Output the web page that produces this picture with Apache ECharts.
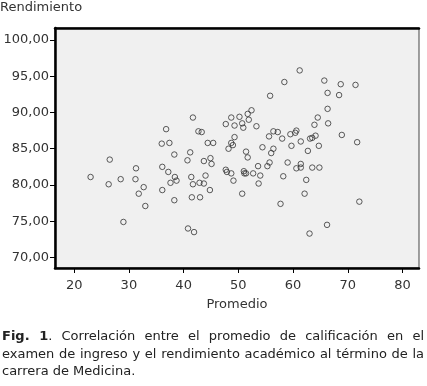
<!DOCTYPE html>
<html>
<head>
<meta charset="utf-8">
<script src="https://cdn.jsdelivr.net/npm/echarts@6/dist/echarts.min.js"></script>
<style>
html,body{margin:0;padding:0;background:#fff;}
#wrap{position:relative;width:427px;height:386px;overflow:hidden;}
#chart{position:absolute;left:0;top:0;width:427px;height:386px;}
#cap{position:absolute;left:2px;top:327px;width:422px;font-family:"DejaVu Sans",Verdana,sans-serif;font-size:13px;line-height:17.5px;color:#222;}
#cap div{white-space:nowrap;}
#cap .j{text-align:justify;text-align-last:justify;}
</style>
</head>
<body>
<div id="wrap">
<div id="chart"></div>
<div id="cap">
<div class="j"><b>Fig. 1</b>. Correlación entre el promedio de calificación en el</div>
<div class="j">examen de ingreso y el rendimiento académico al término de la</div>
<div>carrera de Medicina.</div>
</div>
</div>
<script>
// Promedio (x) values
const promedio = [
23.0,26.5,26.3,28.5,31.3,31.2,32.7,31.8,33.0,29.0,
36.0,37.4,36.8,38.3,36.1,37.2,36.1,37.6,38.4,38.7,38.3,
41.7,42.7,43.3,44.4,45.4,41.2,40.7,43.7,44.9,45.1,
41.4,41.7,42.9,43.7,44.0,44.8,41.5,43.0,40.8,41.9,
47.7,48.7,50.2,49.3,50.7,50.9,51.7,52.4,51.9,53.3,55.8,
49.3,48.7,49.0,48.2,51.4,51.7,54.4,56.4,56.0,55.7,55.3,53.6,
47.7,47.9,48.7,49.1,51.0,51.1,51.4,52.7,54.0,53.7,50.7,57.7,
61.2,58.4,65.7,68.7,71.4,66.3,68.4,66.3,64.5,63.9,66.4,
56.4,57.2,55.6,58.0,59.5,60.4,60.6,63.1,63.5,64.1,68.9,71.7,
61.4,59.7,62.7,64.7,59.0,60.6,61.4,61.4,63.5,64.8,
58.2,62.4,62.1,72.1,66.2,63.0
];
// Rendimiento (y) values
const rendimiento = [
81.1,83.5,80.1,80.8,82.3,80.8,79.7,78.8,77.1,74.9,
85.7,85.8,87.7,84.2,82.5,81.8,79.3,80.3,81.1,80.6,77.9,
89.3,87.4,87.3,85.8,85.8,84.5,83.4,83.3,83.7,82.9,
81.1,80.1,80.3,80.2,81.3,79.3,78.3,78.3,74.0,73.5,
88.4,89.3,89.4,88.2,88.5,87.9,89.8,90.3,89.0,88.1,92.3,
86.6,85.8,85.5,85.0,84.6,83.8,85.2,85.0,84.4,83.1,82.6,82.6,
82.1,81.8,81.6,80.6,81.9,81.6,81.6,81.6,81.3,80.2,78.8,77.4,
95.8,94.2,94.4,93.9,93.8,92.7,92.4,90.5,89.3,88.3,88.5,
87.4,87.3,86.7,86.4,87.0,87.2,87.5,86.4,86.5,86.8,86.9,85.9,
86.0,85.4,84.7,85.4,83.1,82.3,82.4,82.9,82.4,82.4,
81.2,80.7,78.8,77.7,74.5,73.3
];
const xTicks = [20,30,40,50,60,70,80];
const yTicks = [70,75,80,85,90,95,100];

const points = promedio.map((x,i)=>[x, rendimiento[i]]);
const font = '"DejaVu Sans", Verdana, sans-serif';
const chart = echarts.init(document.getElementById('chart'), null, {renderer:'canvas'});
chart.setOption({
  animation:false,
  textStyle:{fontFamily:font},
  graphic:[{type:'text',left:0,top:1,style:{text:'Rendimiento',font:'13px '+font,fill:'#333'}}],
  grid:{left:55,right:8,top:28,bottom:118,show:true,backgroundColor:'#f0f0f0',borderColor:'#444',borderWidth:1},
  xAxis:[{
    type:'value',min:16.5,max:83,
    name:'Promedio',nameLocation:'middle',nameGap:30,
    nameTextStyle:{fontSize:13,color:'#333',fontFamily:font},
    axisLine:{show:true,onZero:false,lineStyle:{color:'#000',width:2.5}},
    axisTick:{show:true,length:5,customValues:xTicks,lineStyle:{color:'#000'}},
    axisLabel:{customValues:xTicks,fontSize:13,color:'#333',margin:11,fontFamily:font},
    splitLine:{show:false}
  },{
    type:'value',position:'top',min:16.5,max:83,
    axisLine:{show:true,onZero:false,lineStyle:{color:'#000',width:2.5}},
    axisTick:{show:false},axisLabel:{show:false},splitLine:{show:false}
  }],
  yAxis:{
    type:'value',min:68.55,max:101.65,
    axisLine:{show:true,onZero:false,lineStyle:{color:'#000',width:2.5}},
    axisTick:{show:true,length:5,customValues:yTicks,lineStyle:{color:'#000'}},
    axisLabel:{customValues:yTicks,fontSize:13,color:'#333',margin:6,fontFamily:font,
      formatter:v=>v.toFixed(2).replace('.',',')},
    splitLine:{show:false}
  },
  series:[{
    type:'scatter',data:points,symbol:'circle',symbolSize:5.5,
    itemStyle:{color:'rgba(0,0,0,0)',borderColor:'#333',borderWidth:1}
  }]
});
</script>
</body>
</html>
